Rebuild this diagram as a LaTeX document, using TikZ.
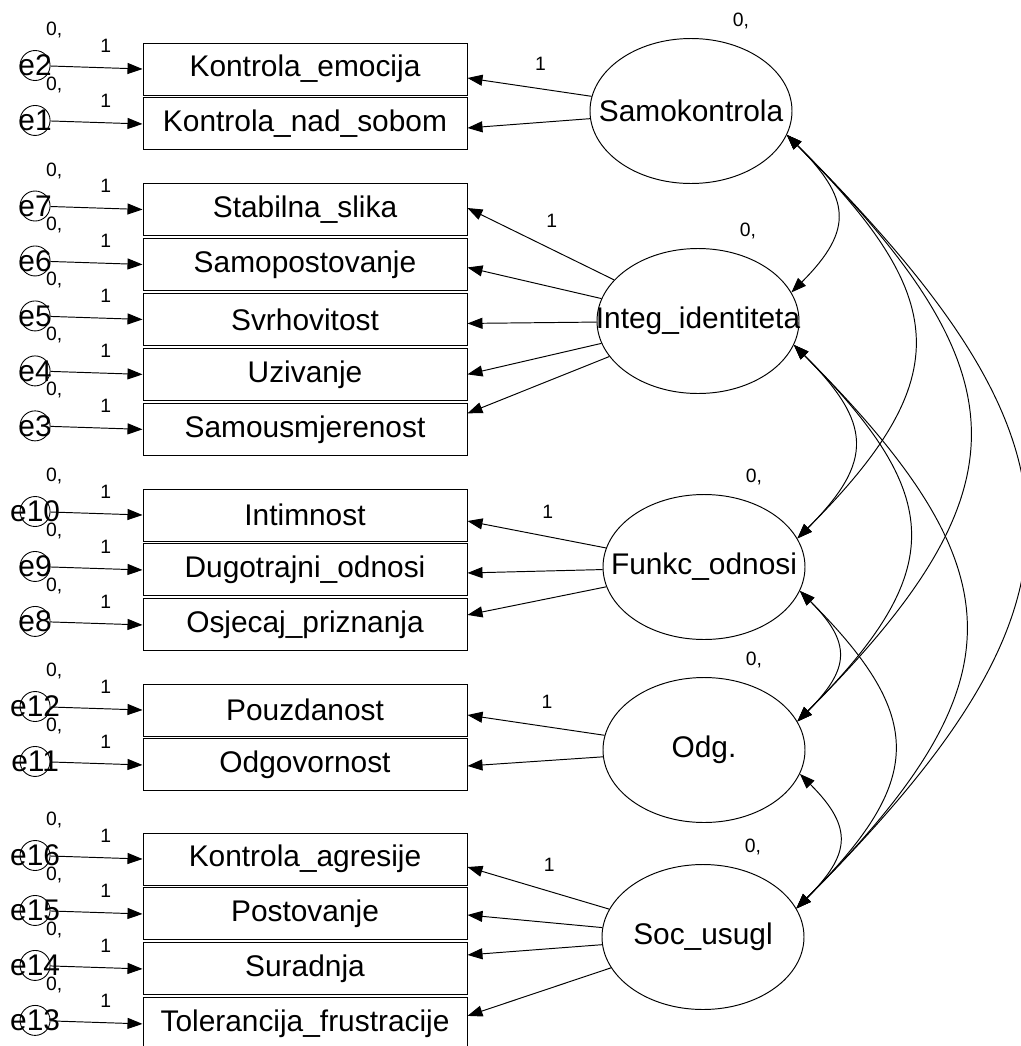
\documentclass[tikz,border=0pt]{standalone}
\usepackage{fontspec}
\setmainfont{Liberation Sans}
\usetikzlibrary{positioning}
\usetikzlibrary{shapes.geometric}
\usetikzlibrary{arrows.meta}

\tikzset{
  big/.style={font=\fontsize{17}{20}\selectfont},
  small/.style={font=\fontsize{11}{13}\selectfont},
  obs/.style={draw, line width=0.55pt, minimum width=6.48cm, minimum height=1.04cm, inner sep=0pt, big},
  lat/.style={draw, ellipse, line width=0.55pt, minimum width=4.04cm, minimum height=2.9cm, inner sep=0pt, label={[big]center:#1}},
  err/.style={draw, circle, line width=0.5pt, minimum size=0.6cm, inner sep=0pt, label={[big]center:#1}},
  arr/.style={line width=0.55pt, -{Triangle[length=0.3cm, width=0.22cm]}},
  cov/.style={line width=0.55pt, {Triangle[length=0.3cm, width=0.22cm]}-{Triangle[length=0.3cm, width=0.22cm]}, out=-45, in=45, looseness=1.45},
}

\begin{document}
\begin{tikzpicture}
      \useasboundingbox (0,0) rectangle (20.4,-20.92);
      % observed variables
      \node[obs] (kemo) at (6.1,-1.38) {Kontrola\_emocija};
      \node[obs, below=0.04cm of kemo] (knad) {Kontrola\_nad\_sobom};
      \node[obs] (stab) at (6.1,-4.19) {Stabilna\_slika};
      \node[obs, below=0.04cm of stab] (samop) {Samopostovanje};
      \node[obs, below=0.04cm of samop] (svrh) {Svrhovitost};
      \node[obs, below=0.04cm of svrh] (uziv) {Uzivanje};
      \node[obs, below=0.04cm of uziv] (samou) {Samousmjerenost};
      \node[obs] (intim) at (6.1,-10.30) {Intimnost};
      \node[obs, below=0.04cm of intim] (dugo) {Dugotrajni\_odnosi};
      \node[obs, below=0.04cm of dugo] (osje) {Osjecaj\_priznanja};
      \node[obs] (pouz) at (6.1,-14.20) {Pouzdanost};
      \node[obs, below=0.04cm of pouz] (odgov) {Odgovornost};
      \node[obs] (kagr) at (6.1,-17.18) {Kontrola\_agresije};
      \node[obs, below=0.04cm of kagr] (post) {Postovanje};
      \node[obs, below=0.04cm of post] (surad) {Suradnja};
      \node[obs, below=0.04cm of surad] (toler) {Tolerancija\_frustracije};

      % errors
      \node[err=e2, left=1.84cm of kemo.west, yshift=0.07cm] (e2) {};
      \node[err=e1, left=1.84cm of knad.west, yshift=0.07cm] (e1) {};
      \node[err=e7, left=1.84cm of stab.west, yshift=0.07cm] (e7) {};
      \node[err=e6, left=1.84cm of samop.west, yshift=0.07cm] (e6) {};
      \node[err=e5, left=1.84cm of svrh.west, yshift=0.07cm] (e5) {};
      \node[err=e4, left=1.84cm of uziv.west, yshift=0.07cm] (e4) {};
      \node[err=e3, left=1.84cm of samou.west, yshift=0.07cm] (e3) {};
      \node[err=e10, left=1.84cm of intim.west, yshift=0.07cm] (e10) {};
      \node[err=e9, left=1.84cm of dugo.west, yshift=0.07cm] (e9) {};
      \node[err=e8, left=1.84cm of osje.west, yshift=0.07cm] (e8) {};
      \node[err=e12, left=1.84cm of pouz.west, yshift=0.07cm] (e12) {};
      \node[err=e11, left=1.84cm of odgov.west, yshift=0.07cm] (e11) {};
      \node[err=e16, left=1.84cm of kagr.west, yshift=0.07cm] (e16) {};
      \node[err=e15, left=1.84cm of post.west, yshift=0.07cm] (e15) {};
      \node[err=e14, left=1.84cm of surad.west, yshift=0.07cm] (e14) {};
      \node[err=e13, left=1.84cm of toler.west, yshift=0.07cm] (e13) {};

      \node[small] (z2) at ([shift={(0.38,0.71)}]e2) {0,};
      \node[small] (z1) at ([shift={(0.38,0.71)}]e1) {0,};
      \node[small] (z7) at ([shift={(0.38,0.71)}]e7) {0,};
      \node[small] (z6) at ([shift={(0.38,0.71)}]e6) {0,};
      \node[small] (z5) at ([shift={(0.38,0.71)}]e5) {0,};
      \node[small] (z4) at ([shift={(0.38,0.71)}]e4) {0,};
      \node[small] (z3) at ([shift={(0.38,0.71)}]e3) {0,};
      \node[small] (z10) at ([shift={(0.38,0.71)}]e10) {0,};
      \node[small] (z9) at ([shift={(0.38,0.71)}]e9) {0,};
      \node[small] (z8) at ([shift={(0.38,0.71)}]e8) {0,};
      \node[small] (z12) at ([shift={(0.38,0.71)}]e12) {0,};
      \node[small] (z11) at ([shift={(0.38,0.71)}]e11) {0,};
      \node[small] (z16) at ([shift={(0.38,0.71)}]e16) {0,};
      \node[small] (z15) at ([shift={(0.38,0.71)}]e15) {0,};
      \node[small] (z14) at ([shift={(0.38,0.71)}]e14) {0,};
      \node[small] (z13) at ([shift={(0.38,0.71)}]e13) {0,};

      \draw[arr] (e2) -- node[small, pos=0.6, yshift=0.44cm] (o2) {1} (kemo.west);
      \draw[arr] (e1) -- node[small, pos=0.6, yshift=0.44cm] (o1) {1} (knad.west);
      \draw[arr] (e7) -- node[small, pos=0.6, yshift=0.44cm] (o7) {1} (stab.west);
      \draw[arr] (e6) -- node[small, pos=0.6, yshift=0.44cm] (o6) {1} (samop.west);
      \draw[arr] (e5) -- node[small, pos=0.6, yshift=0.44cm] (o5) {1} (svrh.west);
      \draw[arr] (e4) -- node[small, pos=0.6, yshift=0.44cm] (o4) {1} (uziv.west);
      \draw[arr] (e3) -- node[small, pos=0.6, yshift=0.44cm] (o3) {1} (samou.west);
      \draw[arr] (e10) -- node[small, pos=0.6, yshift=0.44cm] (o10) {1} (intim.west);
      \draw[arr] (e9) -- node[small, pos=0.6, yshift=0.44cm] (o9) {1} (dugo.west);
      \draw[arr] (e8) -- node[small, pos=0.6, yshift=0.44cm] (o8) {1} (osje.west);
      \draw[arr] (e12) -- node[small, pos=0.6, yshift=0.44cm] (o12) {1} (pouz.west);
      \draw[arr] (e11) -- node[small, pos=0.6, yshift=0.44cm] (o11) {1} (odgov.west);
      \draw[arr] (e16) -- node[small, pos=0.6, yshift=0.44cm] (o16) {1} (kagr.west);
      \draw[arr] (e15) -- node[small, pos=0.6, yshift=0.44cm] (o15) {1} (post.west);
      \draw[arr] (e14) -- node[small, pos=0.6, yshift=0.44cm] (o14) {1} (surad.west);
      \draw[arr] (e13) -- node[small, pos=0.6, yshift=0.44cm] (o13) {1} (toler.west);

      % latent factors
      \node[lat=Samokontrola] (samo) at (13.82,-2.22) {};
      \node[lat=Integ\_identiteta] (integ) at (13.96,-6.42) {};
      \node[lat=Funkc\_odnosi] (funkc) at (14.08,-11.34) {};
      \node[lat=Odg.] (odg) at (14.08,-15.0) {};
      \node[lat=Soc\_usugl] (soc) at (14.06,-18.74) {};

      \node[small] (vsamo) at ([shift={(1.0,1.8)}]samo) {0,};
      \node[small] (vinteg) at ([shift={(1.0,1.8)}]integ) {0,};
      \node[small] (vfunkc) at ([shift={(1.0,1.8)}]funkc) {0,};
      \node[small] (vodg) at ([shift={(1.0,1.8)}]odg) {0,};
      \node[small] (vsoc) at ([shift={(1.0,1.8)}]soc) {0,};

      % loadings
      \draw[arr] (samo) -- node[small, midway, xshift=0.22cm, yshift=0.46cm] (lsamo) {1} ([yshift=-0.18cm]kemo.east);
      \draw[arr] (samo) -- ([yshift=-0.08cm]knad.east);
      \draw[arr] (integ) -- node[small, midway, xshift=0.22cm, yshift=0.46cm] (linteg) {1} ([yshift=0.03cm]stab.east);
      \draw[arr] (integ) -- ([yshift=-0.06cm]samop.east);
      \draw[arr] (integ) -- ([yshift=-0.08cm]svrh.east);
      \draw[arr] (integ) -- (uziv.east);
      \draw[arr] (integ) -- ([yshift=0.32cm]samou.east);
      \draw[arr] (funkc) -- node[small, midway, xshift=0.22cm, yshift=0.46cm] (lfunkc) {1} ([yshift=-0.12cm]intim.east);
      \draw[arr] (funkc) -- ([yshift=-0.06cm]dugo.east);
      \draw[arr] (funkc) -- ([yshift=0.2cm]osje.east);
      \draw[arr] (odg) -- node[small, midway, xshift=0.22cm, yshift=0.46cm] (lodg) {1} ([yshift=-0.1cm]pouz.east);
      \draw[arr] (odg) -- ([yshift=-0.02cm]odgov.east);
      \draw[arr] (soc) -- node[small, midway, xshift=0.22cm, yshift=0.46cm] (lsoc) {1} ([yshift=-0.16cm]kagr.east);
      \draw[arr] (soc) -- ([yshift=-0.02cm]post.east);
      \draw[arr] (soc) -- ([yshift=0.28cm]surad.east);
      \draw[arr] (soc) -- ([yshift=0.16cm]toler.east);

      % covariances
      \draw[cov] (samo.-14) to (integ.17);
      \draw[cov] (samo.-14) to (funkc.17);
      \draw[cov] (samo.-14) to (odg.17);
      \draw[cov] (samo.-14) to (soc.17);
      \draw[cov] (integ.-14) to (funkc.17);
      \draw[cov] (integ.-14) to (odg.17);
      \draw[cov] (integ.-14) to (soc.17);
      \draw[cov] (funkc.-14) to (odg.17);
      \draw[cov] (funkc.-14) to (soc.17);
      \draw[cov] (odg.-14) to (soc.17);
\end{tikzpicture}
\end{document}
